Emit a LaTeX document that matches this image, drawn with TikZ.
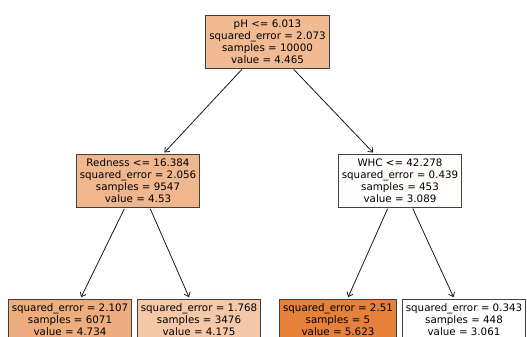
\documentclass[tikz,border=0pt]{standalone}
\usepackage{fontspec}
\setmainfont{DejaVu Sans}
\usetikzlibrary{arrows.meta}
\definecolor{rootfill}{HTML}{F1BA93}
\definecolor{redfill}{HTML}{F0B78E}
\definecolor{whcfill}{HTML}{FFFEFD}
\definecolor{leafA}{HTML}{EEAD7E}
\definecolor{leafB}{HTML}{F4C8A9}
\definecolor{leafC}{HTML}{E58139}
\definecolor{leafD}{HTML}{FFFFFF}

\begin{document}
\begin{tikzpicture}[x=1pt, y=-1pt,
    treebox/.style={draw=black!75, line width=0.9pt, align=center, anchor=north,
      inner xsep=3.5pt, inner ysep=4.5pt, font=\fontsize{10.3}{12}\selectfont},
    treeedge/.style={-{Straight Barb[length=4pt,width=6.5pt]}, black!90,
      line width=0.8pt, shorten >=2pt, shorten <=1pt}]
        \useasboundingbox (0,0) rectangle (527,337);
        % Root split
        \node[treebox, fill=rootfill] (root) at (267.5,15)
          {pH <= 6.013\\squared\_error = 2.073\\samples = 10000\\value = 4.465};
        % Second level
        \node[treebox, fill=redfill] (red) at (138,154)
          {Redness <= 16.384\\squared\_error = 2.056\\samples = 9547\\value = 4.53};
        \node[treebox, fill=whcfill] (whc) at (400,154)
          {WHC <= 42.278\\squared\_error = 0.439\\samples = 453\\value = 3.089};
        % Leaves
        \node[treebox, fill=leafA] (leafa) at (70,299)
          {squared\_error = 2.107\\samples = 6071\\value = 4.734};
        \node[treebox, fill=leafB] (leafb) at (199,299)
          {squared\_error = 1.768\\samples = 3476\\value = 4.175};
        \node[treebox, fill=leafC] (leafc) at (338,299)
          {squared\_error = 2.51\\samples = 5\\value = 5.623};
        \node[treebox, fill=leafD] (leafd) at (464,299)
          {squared\_error = 0.343\\samples = 448\\value = 3.061};
        % Edges
        \draw[treeedge] (root) -- (red);
        \draw[treeedge] (root) -- (whc);
        \draw[treeedge] (red) -- (leafa);
        \draw[treeedge] (red) -- (leafb);
        \draw[treeedge] (whc) -- (leafc);
        \draw[treeedge] (whc) -- (leafd);
      \end{tikzpicture}
\end{document}
